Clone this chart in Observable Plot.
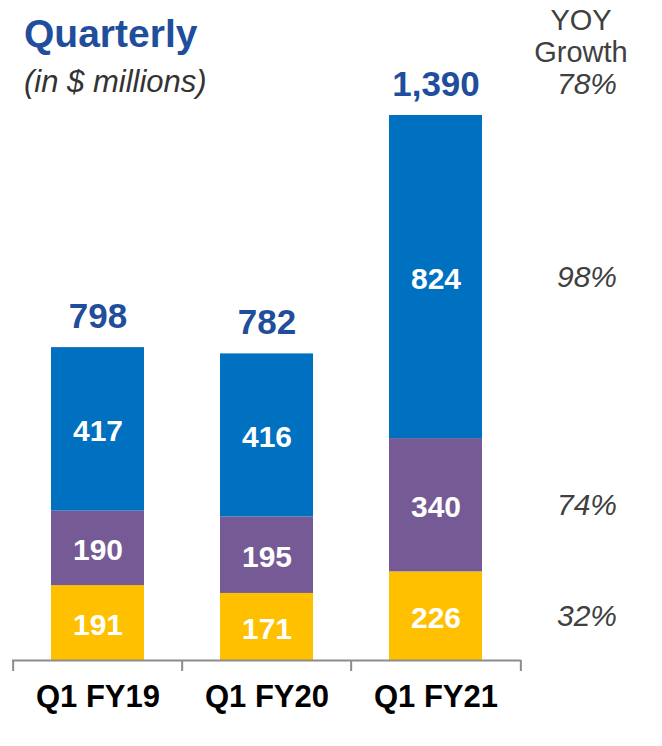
<!DOCTYPE html>
<html>
<head>
<meta charset="utf-8">
<script src="https://cdn.jsdelivr.net/npm/d3@7"></script>
<script src="https://cdn.jsdelivr.net/npm/@observablehq/plot@0.6"></script>
<style>
  html, body { margin: 0; padding: 0; background: #fff; }
  #wrap { position: relative; width: 662px; height: 746px; font-family: "Liberation Sans", Arial, sans-serif; }
  #wrap svg { position: absolute; left: 0; top: 0; }
  .ov { position: absolute; white-space: nowrap; line-height: 1; }
  #title { left: 24px; top: 14px; font-size: 39px; font-weight: bold; color: #1F4E9C; }
  #sub { left: 24px; top: 66px; font-size: 31px; font-style: italic; color: #333; }
  #yoy { left: 521px; top: 4px; width: 120px; text-align: center; font-size: 29px; color: #404040; line-height: 32px; }
</style>
</head>
<body>
<div id="wrap">
  <div class="ov" id="title">Quarterly</div>
  <div class="ov" id="sub">(in $ millions)</div>
  <div class="ov" id="yoy">YOY<br>Growth</div>
</div>
<script>
const quarters = ["Q1 FY19", "Q1 FY20", "Q1 FY21"];
const segments = ["Segment A", "Segment B", "Segment C"];
const segmentAValues = [191, 171, 226];
const segmentBValues = [190, 195, 340];
const segmentCValues = [417, 416, 824];
const totalValues = [798, 782, 1390];
const segmentGrowth = ["32%", "74%", "98%"];
const totalGrowth = "78%";
const segmentColors = ["#FFC000", "#765A96", "#0070C0"];

const rows = [];
quarters.forEach((q, i) => {
  [segmentAValues, segmentBValues, segmentCValues].forEach((arr, j) => {
    rows.push({quarter: q, segment: segments[j], value: arr[i], growth: segmentGrowth[j]});
  });
});
const totals = quarters.map((q, i) => ({quarter: q, total: totalValues[i]}));
const lastQ = quarters[quarters.length - 1];
const lastRows = rows.filter(d => d.quarter === lastQ);

const W = 662, H = 746, mL = 12, mR = 141;
const step = (W - mL - mR) / quarters.length;

const chart = Plot.plot({
  width: W,
  height: H,
  marginLeft: mL,
  marginRight: mR,
  marginTop: 115,
  marginBottom: 86,
  style: {fontFamily: "'Liberation Sans', Arial, sans-serif", background: "transparent"},
  x: {domain: quarters, padding: 0, axis: null},
  y: {axis: null, nice: false},
  color: {type: "ordinal", domain: segments, range: segmentColors},
  marks: [
    Plot.barY(rows, {x: "quarter", y: "value", fill: "segment", insetLeft: 38, insetRight: 38}),
    Plot.text(rows, Plot.stackY({x: "quarter", y: "value", z: "segment", text: d => String(d.value),
      fill: "white", fontSize: 30, fontWeight: "bold", dy: 2})),
    Plot.text(totals, {x: "quarter", y: "total", text: d => d3.format(",")(d.total), dy: -31,
      fill: "#1F4E9C", fontSize: 35, fontWeight: "bold"}),
    Plot.text(lastRows, Plot.stackY({x: "quarter", y: "value", z: "segment", text: "growth", dx: 151,
      fill: "#404040", fontSize: 30, fontStyle: "italic"})),
    Plot.text(totals.filter(d => d.quarter === lastQ), {x: "quarter", y: "total", text: () => totalGrowth,
      dx: 151, dy: -31, fill: "#404040", fontSize: 30, fontStyle: "italic"}),
    Plot.ruleY([0], {stroke: "#8c8c8c", strokeWidth: 2}),
    Plot.ruleX(quarters, {x: d => d, y1: 0, y2: 0, insetBottom: -11, dx: -step / 2, stroke: "#8c8c8c", strokeWidth: 2}),
    Plot.ruleX([lastQ], {x: d => d, y1: 0, y2: 0, insetBottom: -11, dx: step / 2, stroke: "#8c8c8c", strokeWidth: 2}),
    Plot.text(quarters, {x: d => d, frameAnchor: "bottom", lineAnchor: "middle", dy: 37, text: d => d,
      fill: "#000", fontSize: 31, fontWeight: "bold"})
  ]
});
document.getElementById("wrap").prepend(chart);
</script>
</body>
</html>
